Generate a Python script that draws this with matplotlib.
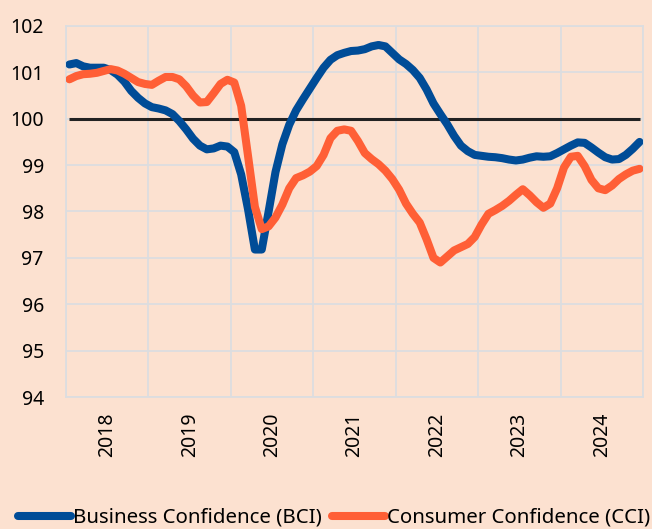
import numpy as np
import matplotlib.pyplot as plt

plt.rcParams['font.family'] = ['Noto Sans', 'DejaVu Sans']

# ─── data (monthly, Jan 2018 – Dec 2024) ───
years = ['2018', '2019', '2020', '2021', '2022', '2023', '2024']

bci = [
    101.17, 101.20, 101.13, 101.10, 101.10, 101.10, 101.05, 100.95, 100.80, 100.60, 100.45, 100.33,
    100.25, 100.22, 100.18, 100.10, 99.95, 99.77, 99.57, 99.42, 99.34, 99.36, 99.42, 99.40,
    99.28, 98.80, 98.05, 97.18, 97.18, 98.00, 98.85, 99.45, 99.87, 100.18, 100.42, 100.65,
    100.88, 101.10, 101.27, 101.37, 101.42, 101.46, 101.47, 101.50, 101.56, 101.59, 101.56, 101.42,
    101.28, 101.18, 101.05, 100.88, 100.63, 100.33, 100.10, 99.88, 99.63, 99.42, 99.30, 99.22,
    99.20, 99.18, 99.17, 99.15, 99.12, 99.10, 99.12, 99.16, 99.19, 99.18, 99.19, 99.26,
    99.34, 99.42, 99.49, 99.48, 99.38, 99.27, 99.17, 99.12, 99.13, 99.22, 99.35, 99.50,
]

cci = [
    100.85, 100.92, 100.96, 100.97, 100.99, 101.03, 101.07, 101.04, 100.97, 100.88, 100.79, 100.75,
    100.73, 100.82, 100.90, 100.90, 100.85, 100.70, 100.50, 100.35, 100.36, 100.55, 100.75, 100.84,
    100.78, 100.28, 99.20, 98.10, 97.62, 97.68, 97.87, 98.15, 98.50, 98.72, 98.78, 98.86,
    98.98, 99.22, 99.58, 99.74, 99.77, 99.74, 99.52, 99.26, 99.13, 99.02, 98.88, 98.70,
    98.47, 98.17, 97.95, 97.76, 97.40, 97.00, 96.90, 97.03, 97.16, 97.23, 97.30, 97.45,
    97.72, 97.95, 98.03, 98.12, 98.23, 98.36, 98.48, 98.35, 98.20, 98.08, 98.17, 98.50,
    98.95, 99.18, 99.20, 98.98, 98.68, 98.50, 98.46, 98.56, 98.70, 98.80, 98.88, 98.92,
]

baseline = [100] * len(bci)

BG = '#FCE1D0'
GRID = '#DCDDE0'
BLUE = '#004C97'
ORANGE = '#FF5F36'

x = np.arange(len(bci)) + 0.5

fig = plt.figure(figsize=(6.52, 5.29), dpi=100, facecolor=BG)
ax = fig.add_axes([0.1012, 0.2495, 0.8850, 0.7014])
ax.set_facecolor(BG)

ax.plot(x, baseline, color='#222222', linewidth=2.2, solid_capstyle='butt', zorder=3)
ax.plot(x, bci, color=BLUE, linewidth=5.8, solid_capstyle='round', label='Business Confidence (BCI)', zorder=4)
ax.plot(x, cci, color=ORANGE, linewidth=5.8, solid_capstyle='round', label='Consumer Confidence (CCI)', zorder=4)

ax.set_xlim(0, len(bci))
ax.set_ylim(94, 102)
ax.set_yticks(range(94, 103))
ax.set_xticks(np.arange(0, len(bci) + 1, 12), minor=False)
ax.set_xticklabels([])
ax.set_xticks(np.arange(6, len(bci), 12), minor=True)
ax.set_xticklabels(years, minor=True, rotation=90, fontsize=14)
ax.tick_params(axis='x', which='both', length=0, pad=11)
ax.tick_params(axis='y', length=0, pad=16, labelsize=14)
ax.grid(True, which='major', color=GRID, linewidth=1.3, zorder=0)
for s in ax.spines.values():
    s.set_color(GRID)
    s.set_linewidth(1.3)

leg = fig.legend(loc='center', bbox_to_anchor=(0.512, 0.021), ncol=2, frameon=False,
                 fontsize=14.7, handlelength=2.6, handletextpad=0.1, columnspacing=0.5,
                 borderaxespad=0, borderpad=0)
for h in leg.get_lines():
    h.set_solid_capstyle('round')

fig.savefig('out.png', dpi=100, facecolor=BG)
